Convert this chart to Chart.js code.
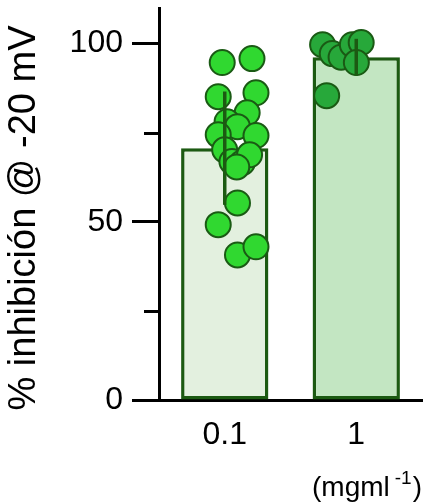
<!DOCTYPE html>
<html>
<head>
<meta charset="utf-8">
<script src="https://cdn.jsdelivr.net/npm/chart.js@4/dist/chart.umd.min.js"></script>
<style>
  html, body { margin: 0; padding: 0; background: #fff; }
  #wrap { width: 431px; height: 503px; position: relative; }
</style>
</head>
<body>
<div id="wrap"><canvas id="c" width="431" height="503"></canvas></div>
<script>
// Concentrations (mg/ml) on the x axis
const categories = ['0.1', '1'];

// Individual measurements, % inhibition at -20 mV
const values01 = [94.7, 95.8, 85.1, 86.2, 80.6, 78.1, 76.7, 74.4, 74.2, 70.2, 66.9, 66.6, 68.8, 65.4, 55.3, 49.2, 40.7, 43.0];
const values1 = [99.7, 97.2, 96.2, 99.7, 100.3, 94.7, 85.4];

// Horizontal spread of the dots inside each bar (in category units)
const jitter01 = [-0.149, 0.134, -0.187, 0.172, 0.088, -0.103, -0.004, -0.187, 0.172, -0.126, -0.057, 0.042, 0.111, -0.011, -0.004, -0.187, -0.004, 0.172];
const jitter1 = [-0.195, -0.103, -0.019, 0.088, 0.172, 0.126, -0.156];

// Y axis ticks: labelled majors and unlabelled minors
const yTicks = [0, 25, 50, 75, 100];
const yLabelled = [0, 50, 100];
const yTitle = '% inhibición @ -20 mV';

const groups = [values01, values1];
const mean = a => a.reduce((s, v) => s + v, 0) / a.length;
const sd = a => { const m = mean(a); return Math.sqrt(a.reduce((s, v) => s + (v - m) * (v - m), 0) / (a.length - 1)); };
const means = groups.map(mean);
const sds = groups.map(sd);

const dark = '#1c5a12';
const FONT = "'Liberation Sans', Arial, sans-serif";

// Mean ± SD whiskers, minor ticks, axis title and the unit label
const extras = {
  id: 'extras',
  afterDatasetsDraw(chart) {
    const ctx = chart.ctx;
    const y = chart.scales.y, x = chart.scales.x;
    ctx.save();
    ctx.strokeStyle = dark;
    ctx.lineWidth = 3.5;
    means.forEach((m, i) => {
      const px = x.getPixelForValue(i);
      ctx.beginPath();
      ctx.moveTo(px, y.getPixelForValue(m - sds[i]));
      ctx.lineTo(px, y.getPixelForValue(m + sds[i]));
      ctx.stroke();
    });
    ctx.restore();
  },
  afterDraw(chart) {
    const ctx = chart.ctx;
    const y = chart.scales.y;
    const left = chart.chartArea.left;
    ctx.save();
    ctx.strokeStyle = '#000';
    ctx.lineWidth = 3;
    yTicks.filter(v => !yLabelled.includes(v)).forEach(v => {
      const py = Math.round(y.getPixelForValue(v)) + 0.5;
      ctx.beginPath();
      ctx.moveTo(left - 15, py);
      ctx.lineTo(left, py);
      ctx.stroke();
    });

    // rotated y axis title
    ctx.fillStyle = '#000';
    ctx.save();
    ctx.translate(25, 218);
    ctx.rotate(-Math.PI / 2);
    ctx.textAlign = 'center';
    ctx.textBaseline = 'middle';
    ctx.font = '38px ' + FONT;
    ctx.fillText(yTitle, 0, 0);
    ctx.restore();

    // unit label with superscript
    ctx.textBaseline = 'alphabetic';
    ctx.textAlign = 'left';
    let tx = 312;
    const by = 496;
    ctx.font = '28px ' + FONT;
    ctx.fillText('(mgml', tx, by);
    tx += ctx.measureText('(mgml').width + 5;
    ctx.font = '19px ' + FONT;
    ctx.fillText('-1', tx, by - 12);
    tx += ctx.measureText('-1').width + 1;
    ctx.font = '28px ' + FONT;
    ctx.fillText(')', tx, by);
    ctx.restore();
  }
};

Chart.defaults.font.family = FONT;
Chart.defaults.color = '#000';

new Chart(document.getElementById('c'), {
  type: 'bar',
  data: {
    labels: categories,
    datasets: [
      {
        type: 'scatter',
        xAxisID: 'xj',
        order: 1,
        data: values01.map((v, i) => ({ x: 0 + jitter01[i], y: v })),
        backgroundColor: '#30d830',
        borderColor: '#1a5a14',
        borderWidth: 2,
        pointRadius: 12.5
      },
      {
        type: 'scatter',
        xAxisID: 'xj',
        order: 1,
        data: values1.map((v, i) => ({ x: 1 + jitter1[i], y: v })),
        backgroundColor: '#27a83a',
        borderColor: '#1a5a14',
        borderWidth: 2,
        pointRadius: 12.5
      },
      {
        type: 'bar',
        order: 2,
        grouped: false,
        data: means,
        backgroundColor: ['#e3f0df', '#c3e6c2'],
        borderColor: dark,
        borderWidth: 3.5,
        borderSkipped: false,
        categoryPercentage: 1,
        barPercentage: 0.664
      }
    ]
  },
  options: {
    responsive: false,
    animation: false,
    events: [],
    layout: { autoPadding: false, padding: { left: 0, right: 9, top: 8, bottom: 0 } },
    plugins: { legend: { display: false }, tooltip: { enabled: false } },
    scales: {
      x: {
        type: 'category',
        offset: true,
        grid: { display: true, drawOnChartArea: false, drawTicks: false, color: 'transparent' },
        border: { display: true, color: '#000', width: 3 },
        ticks: { font: { size: 32 }, padding: 16, maxRotation: 0 },
        afterFit(s) { s.height = 103; s.paddingLeft = 0; s.paddingRight = 0; }
      },
      xj: {
        type: 'linear',
        display: false,
        min: -0.5,
        max: 1.5
      },
      y: {
        min: 0,
        max: 110,
        afterBuildTicks(s) { s.ticks = yTicks.map(v => ({ value: v })); },
        grid: {
          drawOnChartArea: false,
          drawTicks: true,
          tickLength: 27,
          tickWidth: 3,
          tickColor: c => (yLabelled.includes(c.tick && c.tick.value) ? '#000' : 'transparent')
        },
        border: { display: true, color: '#000', width: 3 },
        ticks: {
          font: { size: 32 },
          padding: 9,
          callback: v => (yLabelled.includes(v) ? String(v) : '')
        },
        afterFit(s) { s.width = 159; s.paddingTop = 0; s.paddingBottom = 0; }
      }
    }
  },
  plugins: [extras]
});
</script>
</body>
</html>
